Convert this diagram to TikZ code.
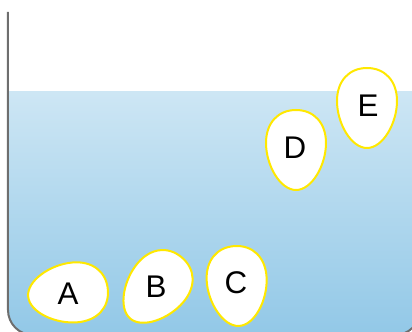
\documentclass[tikz,border=0pt]{standalone}
\usepackage{fontspec}
\setmainfont{Liberation Sans}
\usetikzlibrary{positioning}
\definecolor{wallgray}{RGB}{110,110,110}
\definecolor{watertop}{RGB}{205,230,244}
\definecolor{waterbot}{RGB}{146,200,231}
\definecolor{eggline}{RGB}{255,232,0}

\tikzset{
  pics/egg/.style={code={
    \path[eggshell] (0,40) .. controls (18,40) and (30,27) .. (30,7)
      .. controls (30,-15) and (16,-40) .. (0,-40)
      .. controls (-16,-40) and (-30,-15) .. (-30,7)
      .. controls (-30,27) and (-18,40) .. (0,40) -- cycle;
  }}
}

\begin{document}
\begin{tikzpicture}[x=0.75pt, y=0.75pt,
  wall/.style={draw=wallgray, line width=1.5pt, rounded corners=18.75pt},
  eggshell/.style={fill=white, draw=eggline, line width=1.5pt},
  eggtext/.style={font=\fontsize{23.5}{28}\selectfont, text=black, inner sep=0pt}]

  \useasboundingbox (0,0) rectangle (412,332);
  \clip (0,0) rectangle (412,332);

  % water in the tank
  \begin{scope}
    \clip[rounded corners=18.75pt] (8,400) -- (8,-3) -- (420,-3) -- (420,400) -- cycle;
    \shade[top color=watertop, bottom color=waterbot] (8,-3) rectangle (420,240);
  \end{scope}
  \draw[wall] (8,320) -- (8,-3) -- (420,-3) -- (420,320);

  % eggs
  \pic[rotate=-85] at (68,39)  {egg};
  \pic[rotate=-40] at (156,44) {egg};
  \pic[rotate=3]   at (237,46) {egg};
  \pic             at (296,182) {egg};
  \pic             at (367,224) {egg};

  \node[eggtext] (labA) at (68,38)  {A};
  \node[eggtext] (labB) at (156,45) {B};
  \node[eggtext] (labC) at (236,49) {C};
  \node[eggtext] (labD) at (295,184) {D};
  \node[eggtext] (labE) at (368,226) {E};
\end{tikzpicture}
\end{document}
